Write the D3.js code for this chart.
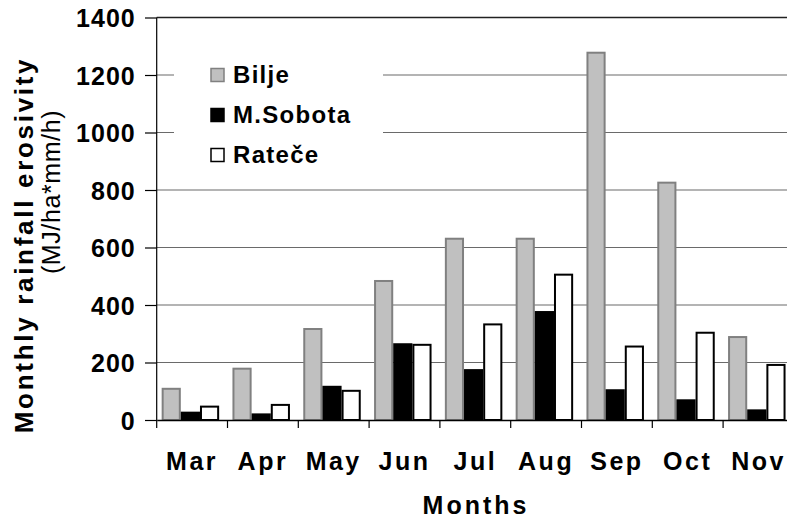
<!DOCTYPE html>
<html>
<head>
<meta charset="utf-8">
<script src="https://cdn.jsdelivr.net/npm/d3@7"></script>
<style>
  html, body { margin: 0; padding: 0; background: #fff; }
  svg { display: block; font-family: "Liberation Sans", Arial, sans-serif; }
</style>
</head>
<body>
<svg id="chart" width="787" height="521"></svg>
<script>
// ---- data ----
const months = ["Mar", "Apr", "May", "Jun", "Jul", "Aug", "Sep", "Oct", "Nov"];
const seriesNames = ["Bilje", "M.Sobota", "Rateče"];
const bilje   = [112, 182, 320, 487, 634, 634, 1281, 829, 292];
const msobota = [29, 23, 119, 267, 177, 379, 107, 72, 37];
const ratece  = [50, 56, 105, 265, 336, 509, 259, 307, 195];
const yTicks = [0, 200, 400, 600, 800, 1000, 1200, 1400];
const xTitle = "Months";
const yTitle = "Monthly rainfall erosivity";
const ySubTitle = "(MJ/ha*mm/h)";

const seriesValues = [bilje, msobota, ratece];
const fills = ["#c0c0c0", "#000000", "#ffffff"];
const strokes = ["#808080", "#000000", "#000000"];

const svg = d3.select("#chart");

const x = d3.scaleBand().domain(months).range([156.7, 793.9]).padding(0);
const x1 = d3.scaleBand().domain(seriesNames)
  .range([x.bandwidth() * 0.07, x.bandwidth() * 0.882]).padding(0);
const y = d3.scaleLinear().domain([0, 1400]).range([420, 17.5]);

// gridlines
svg.append("g").selectAll("line").data(yTicks.filter(d => d > 0)).join("line")
  .attr("x1", x.range()[0]).attr("x2", x.range()[1])
  .attr("y1", d => y(d)).attr("y2", d => y(d))
  .attr("stroke", d => d === 1400 ? "#222" : "#6a6a6a")
  .attr("stroke-width", d => d === 1400 ? 1.6 : 1.1);

// legend background box (covers gridlines)
const legend = svg.append("g");
legend.append("rect").attr("x", 174).attr("y", 55).attr("width", 209).attr("height", 118).attr("fill", "#fff");

// bars
const groups = svg.append("g").selectAll("g").data(months).join("g")
  .attr("transform", d => `translate(${x(d)},0)`);
groups.selectAll("rect")
  .data((m, i) => seriesNames.map((s, k) => ({ s, k, v: seriesValues[k][i] })))
  .join("rect")
  .attr("x", d => x1(d.s) + 1)
  .attr("width", x1.bandwidth() - 2)
  .attr("y", d => y(d.v) + 1)
  .attr("height", d => Math.max(0, y(0) - y(d.v) - 1))
  .attr("fill", d => fills[d.k])
  .attr("stroke", d => strokes[d.k])
  .attr("stroke-width", 2);

// left axis
const yAxis = d3.axisLeft(y).tickValues(yTicks).tickSize(11.7).tickPadding(12).tickFormat(d3.format("d"));
const gy = svg.append("g").attr("transform", "translate(156.7,0)").call(yAxis);
gy.select(".domain").attr("d", `M0,${y(1400)}V428`).attr("stroke", "#000").attr("stroke-width", 1.2);
gy.selectAll(".tick line").attr("stroke", "#000").attr("stroke-width", 1.2);
gy.selectAll(".tick text")
  .attr("font-size", 25).attr("font-weight", "bold").attr("fill", "#000")
  .attr("letter-spacing", 1).attr("dy", "0.36em").attr("x", -21);

// bottom axis
const xAxis = d3.axisBottom(x).tickSize(0).tickPadding(0);
const gx = svg.append("g").attr("transform", "translate(0,420)").call(xAxis);
gx.select(".domain").attr("stroke", "#000").attr("stroke-width", 1.5);
gx.selectAll(".tick text")
  .attr("font-size", 25).attr("font-weight", "bold").attr("fill", "#000")
  .attr("letter-spacing", 2.5).attr("y", 50).attr("dy", 0);
// category boundary ticks
svg.append("g").selectAll("line").data(months.slice(1).concat(["end"])).join("line")
  .attr("x1", d => d === "end" ? x.range()[1] : x(d))
  .attr("x2", d => d === "end" ? x.range()[1] : x(d))
  .attr("y1", 420).attr("y2", 428)
  .attr("stroke", "#000").attr("stroke-width", 1.2);

// axis titles
svg.append("text").attr("x", 476).attr("y", 514).attr("text-anchor", "middle")
  .attr("font-size", 25).attr("font-weight", "bold").attr("letter-spacing", 3)
  .text(xTitle);
svg.append("text").attr("transform", "translate(33,245) rotate(-90)").attr("text-anchor", "middle")
  .attr("font-size", 26).attr("font-weight", "bold").attr("letter-spacing", 2.7)
  .text(yTitle);
svg.append("text").attr("transform", "translate(60,192) rotate(-90)").attr("text-anchor", "middle")
  .attr("font-size", 25).attr("font-weight", "normal").attr("letter-spacing", 0.6)
  .text(ySubTitle);

// legend items
const li = legend.selectAll("g.item").data(seriesNames).join("g").attr("class", "item")
  .attr("transform", (d, i) => `translate(0,${i * 40})`);
li.append("rect").attr("x", 211).attr("y", 68.5).attr("width", 13).attr("height", 13)
  .attr("fill", (d, i) => fills[i]).attr("stroke", (d, i) => strokes[i]).attr("stroke-width", 1.5);
li.append("text").attr("x", 233).attr("y", 82.5).attr("font-size", 24).attr("font-weight", "bold")
  .attr("letter-spacing", 1.3).text(d => d);
</script>
</body>
</html>
